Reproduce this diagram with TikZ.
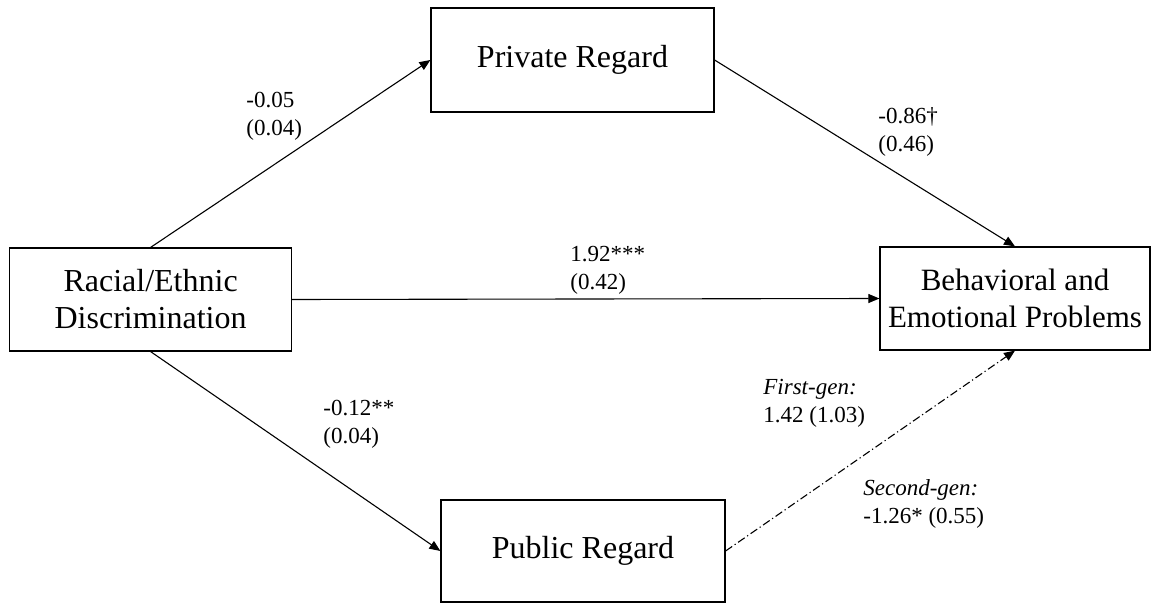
\documentclass[tikz,border=0pt]{standalone}
\usepackage{fontspec}
\setmainfont{Liberation Serif}
\usepackage{tikz}
\usetikzlibrary{arrows.meta}

\begin{document}
\begin{tikzpicture}[
  x=0.5pt, y=-0.5pt,
  >={Triangle[length=5.5pt,width=4.5pt]},
  varbox/.style={draw, line width=0.6pt, inner sep=0pt, align=center,
    font=\fontsize{16}{18.5}\selectfont},
  coeflabel/.style={anchor=west, inner sep=0pt, align=left,
    font=\fontsize{11.5}{14}\selectfont},
  path/.style={->, line width=0.55pt}
]
\useasboundingbox (0,0) rectangle (1158,604);

% Variables
\node[varbox, minimum width=141pt, minimum height=51.5pt] (disc) at (150.6, 299.5)
  {Racial/Ethnic\\Discrimination};
\node[varbox, minimum width=141.5pt, minimum height=52pt] (priv) at (572.5, 60)
  {Private Regard};
\node[varbox, minimum width=142pt, minimum height=51pt] (pub) at (583, 551)
  {Public Regard};
\node[varbox, minimum width=135pt, minimum height=51.5pt,
  font=\fontsize{15.5}{18.5}\selectfont] (behav) at (1015, 298.5)
  {Behavioral and\\Emotional Problems};

% Paths
\draw[path] (disc.north) -- (priv.west);
\draw[path] (priv.east) -- (behav.north);
\draw[path] (disc.east) -- (behav.west);
\draw[path] (disc.south) -- (pub.west);
\draw[path, dash pattern=on 4pt off 1.5pt on 0.6pt off 1.5pt] (pub.east) -- (behav.south);

% Coefficients
\node[coeflabel] (ca) at (246, 116) {-0.05\\(0.04)};
\node[coeflabel] (cb) at (878, 132) {-0.86\textdagger\\(0.46)};
\node[coeflabel] (cc) at (570, 270) {1.92***\\(0.42)};
\node[coeflabel] (cd) at (323, 424) {-0.12**\\(0.04)};
\node[coeflabel] (ce) at (763, 403.5) {\textit{First-gen:}\\1.42 (1.03)};
\node[coeflabel] (cf) at (863, 503.5) {\textit{Second-gen:}\\-1.26* (0.55)};

\end{tikzpicture}
\end{document}
